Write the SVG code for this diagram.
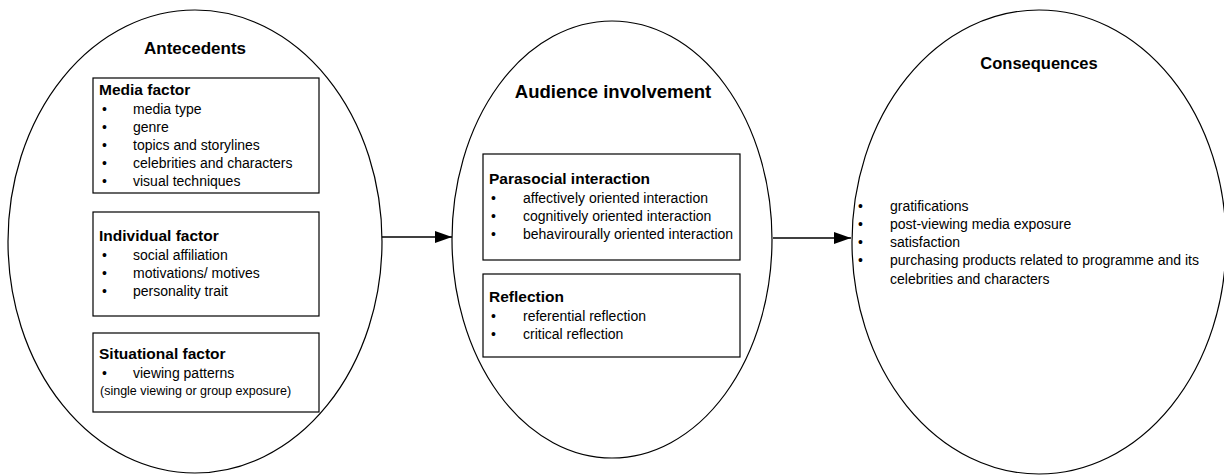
<svg xmlns="http://www.w3.org/2000/svg" width="1224" height="475" viewBox="0 0 1224 475">
<style>
.ell{fill:none;stroke:#000;stroke-width:1.2}
.box{fill:#fff;stroke:#000;stroke-width:1.2}
.title{font-family:"Liberation Sans",Arial,sans-serif;font-weight:bold;fill:#000;text-anchor:middle}
.hd{font-family:"Liberation Sans",Arial,sans-serif;font-weight:bold;font-size:15.5px;fill:#000}
.it{font-family:"Liberation Sans",Arial,sans-serif;font-size:14px;fill:#000}
.sm{font-family:"Liberation Sans",Arial,sans-serif;font-size:12.5px;fill:#000}
.con{stroke:#000;stroke-width:1.6;fill:none}
</style>
<defs>
<marker id="ah" markerWidth="17" markerHeight="12" refX="17" refY="6" orient="auto" markerUnits="userSpaceOnUse">
<path d="M0,0 L17,6 L0,12 Z" fill="#000"/>
</marker>
</defs>
<rect width="1224" height="475" fill="#fff"/>
<g id="antecedents">
<ellipse class="ell" cx="195" cy="241.5" rx="187" ry="231.5"/>
<text class="title" x="195" y="54" font-size="17">Antecedents</text>
<g id="media-factor">
<rect class="box" x="93" y="78" width="226" height="115"/>
<text class="hd" x="99" y="94.5">Media factor</text>
<text class="it" x="102" y="113.5">•</text><text class="it" x="133" y="113.5">media type</text>
<text class="it" x="102" y="131.5">•</text><text class="it" x="133" y="131.5">genre</text>
<text class="it" x="102" y="149.5">•</text><text class="it" x="133" y="149.5">topics and storylines</text>
<text class="it" x="102" y="167.5">•</text><text class="it" x="133" y="167.5">celebrities and characters</text>
<text class="it" x="102" y="185.5">•</text><text class="it" x="133" y="185.5">visual techniques</text>
</g>
<g id="individual-factor">
<rect class="box" x="93" y="212" width="226" height="104"/>
<text class="hd" x="99" y="241">Individual factor</text>
<text class="it" x="102" y="260">•</text><text class="it" x="133" y="260">social affiliation</text>
<text class="it" x="102" y="278">•</text><text class="it" x="133" y="278">motivations/ motives</text>
<text class="it" x="102" y="296">•</text><text class="it" x="133" y="296">personality trait</text>
</g>
<g id="situational-factor">
<rect class="box" x="93" y="333" width="226" height="79"/>
<text class="hd" x="99" y="359">Situational factor</text>
<text class="it" x="102" y="378">•</text><text class="it" x="133" y="378">viewing patterns</text>
<text class="sm" x="100" y="395">(single viewing or group exposure)</text>
</g>
</g>
<g id="audience-involvement">
<ellipse class="ell" cx="612" cy="239.5" rx="160" ry="218.5"/>
<text class="title" x="613" y="98" font-size="18.5">Audience involvement</text>
<g id="parasocial-interaction">
<rect class="box" x="483" y="154" width="257" height="106"/>
<text class="hd" x="489" y="184">Parasocial interaction</text>
<text class="it" x="491" y="203">•</text><text class="it" x="523" y="203">affectively oriented interaction</text>
<text class="it" x="491" y="221">•</text><text class="it" x="523" y="221">cognitively oriented interaction</text>
<text class="it" x="491" y="239">•</text><text class="it" x="523" y="239">behavirourally oriented interaction</text>
</g>
<g id="reflection">
<rect class="box" x="483" y="274" width="257" height="83"/>
<text class="hd" x="489" y="302">Reflection</text>
<text class="it" x="491" y="321">•</text><text class="it" x="523" y="321">referential reflection</text>
<text class="it" x="491" y="339">•</text><text class="it" x="523" y="339">critical reflection</text>
</g>
</g>
<g id="consequences">
<ellipse class="ell" cx="1039" cy="242" rx="187" ry="232"/>
<text class="title" x="1039" y="69" font-size="16.5">Consequences</text>
<text class="it" x="858" y="211">•</text><text class="it" x="890" y="211">gratifications</text>
<text class="it" x="858" y="229">•</text><text class="it" x="890" y="229">post-viewing media exposure</text>
<text class="it" x="858" y="247">•</text><text class="it" x="890" y="247">satisfaction</text>
<text class="it" x="858" y="265">•</text><text class="it" x="890" y="265">purchasing products related to programme and its</text>
<text class="it" x="890" y="284">celebrities and characters</text>
</g>
<g id="connectors">
<line class="con" x1="382" y1="237" x2="452" y2="237" marker-end="url(#ah)"/>
<line class="con" x1="773" y1="238" x2="851" y2="238" marker-end="url(#ah)"/>
</g>
</svg>
